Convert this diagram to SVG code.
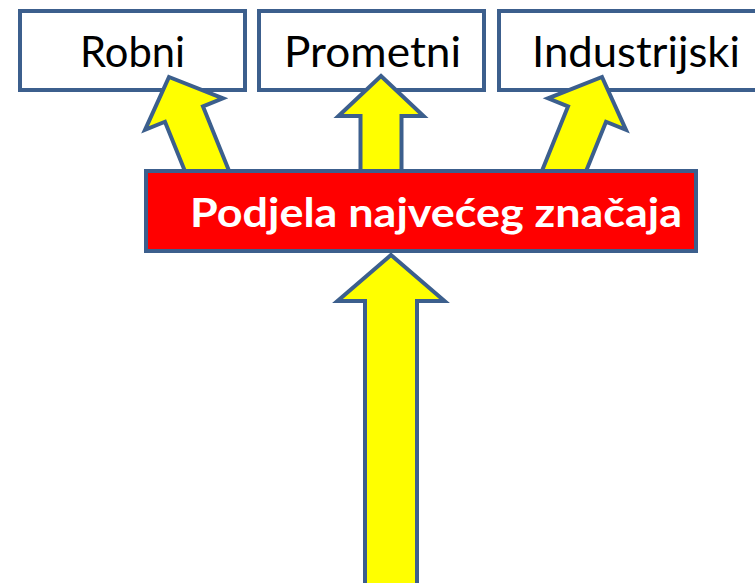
<svg xmlns="http://www.w3.org/2000/svg" width="755" height="583" viewBox="0 0 755 583">
<style>
.box{fill:#ffffff;stroke:#3c5f8d;stroke-width:4}
.main{fill:#ff0000;stroke:#3c5f8d;stroke-width:4}
.arrow{fill:#ffff00;stroke:#3c5f8d;stroke-width:4;stroke-linejoin:miter}
.lbl{font-family:Lato,"Open Sans","Liberation Sans",sans-serif;font-size:42px;fill:#000000;text-anchor:middle}
.mlbl{font-family:Lato,"Open Sans","Liberation Sans",sans-serif;font-weight:bold;font-size:40px;fill:#ffffff;text-anchor:middle}
</style>
<rect width="755" height="583" fill="#ffffff"/>
<g id="robni"><rect class="box" x="20" y="11" width="225" height="79"/><text class="lbl" x="132.5" y="67" textLength="105" lengthAdjust="spacingAndGlyphs">Robni</text></g>
<g id="prometni"><rect class="box" x="259" y="11" width="225" height="79"/><text class="lbl" x="372.5" y="67" textLength="177" lengthAdjust="spacingAndGlyphs">Prometni</text></g>
<g id="industrijski"><rect class="box" x="499" y="11" width="280" height="79"/><text class="lbl" x="636" y="67" textLength="208" lengthAdjust="spacingAndGlyphs">Industrijski</text></g>
<g id="connectors">
<polygon class="arrow" points="0,0 42,40 20.5,40 20.5,120 -20.5,120 -20.5,40 -42,40" transform="translate(169,77) rotate(-22)"/>
<polygon class="arrow" points="0,0 42.5,40 20.5,40 20.5,110 -20.5,110 -20.5,40 -42.5,40" transform="translate(381,76)"/>
<polygon class="arrow" points="0,0 42,40 20.5,40 20.5,120 -20.5,120 -20.5,40 -42,40" transform="translate(602,77) rotate(22)"/>
<polygon class="arrow" points="391,255 444.5,301 417,301 417,600 365,600 365,301 337.5,301"/>
</g>
<g id="podjela"><rect class="main" x="146" y="171" width="550" height="80"/><text class="mlbl" x="436" y="227" textLength="492" lengthAdjust="spacingAndGlyphs">Podjela najvećeg značaja</text></g>
</svg>
